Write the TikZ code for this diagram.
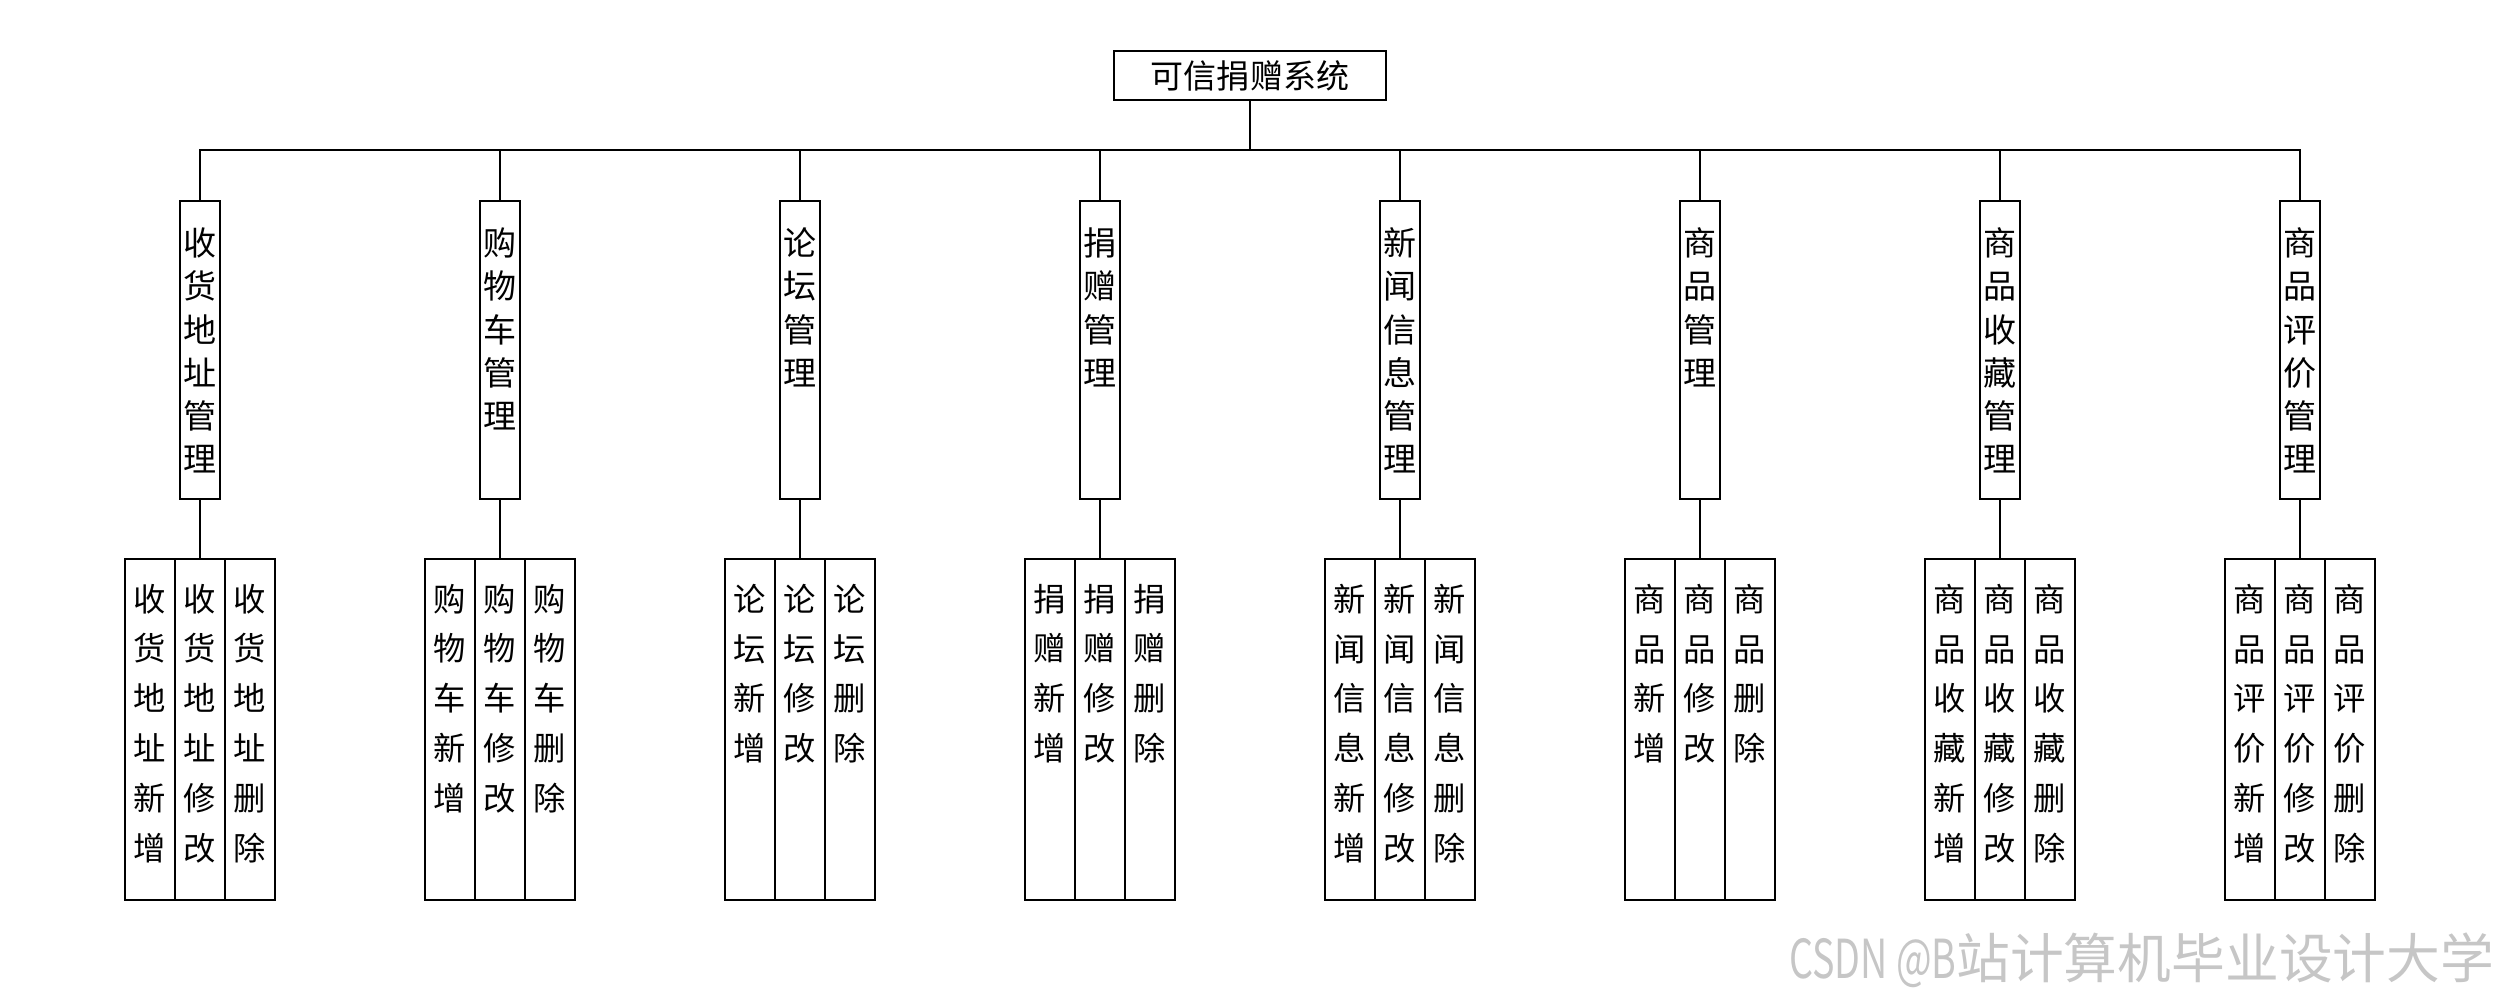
\documentclass[tikz,border=0pt]{standalone}
\usepackage{fontspec}
\setmainfont{Noto Sans CJK SC}
\usetikzlibrary{positioning}

\begin{document}
\begin{tikzpicture}[
    line width=0.5pt,
    rootbox/.style={draw, minimum width=2.72cm, minimum height=0.49cm, inner sep=0pt, font=\fontsize{9.4}{11}\selectfont},
    modbox/.style={draw, anchor=north, minimum width=0.4cm, minimum height=2.98cm, inner sep=0pt},
    leafbox/.style={draw, anchor=north, minimum width=0.5cm, minimum height=3.41cm, inner sep=0pt},
    modtext/.style={anchor=north, align=center, inner sep=0pt, font=\fontsize{9.4}{12.3}\selectfont},
    leaftext/.style={anchor=north, align=center, inner sep=0pt, font=\fontsize{9.2}{14.2}\selectfont},
    wmark/.style={anchor=east, inner sep=0pt, text=gray!45, font=\fontsize{15.3}{18}\selectfont}
]
\useasboundingbox (0,0) rectangle (25,-10);
\node[rootbox] (root) at (12.5,-0.755) {可信捐赠系统};
\coordinate (bus) at (12.5,-1.5);
\draw (root.south) -- (bus);
\foreach \p [count=\i] in {{收\\货\\地\\址}, {购\\物\\车}, {论\\坛}, {捐\\赠}, {新\\闻\\信\\息}, {商\\品}, {商\\品\\收\\藏}, {商\\品\\评\\价}} {
  \pgfmathsetmacro\x{2+3*(\i-1)}
  \node[modbox] (m\i) at (\x,-2.00) {};
  \node[modtext] (mt\i) at ([yshift=-0.27cm]m\i.north) {\p\\管\\理};
  \draw (m\i.north) |- (bus);
  \foreach \op [count=\j] in {{新\\增}, {修\\改}, {删\\除}} {
    \node[leafbox] (l\i-\j) at (\x-1+0.5*\j,-5.58) {};
    \node[leaftext] (lt\i-\j) at ([yshift=-0.25cm]l\i-\j.north) {\p\\\op};
  }
  \draw (m\i.south) -- (l\i-2.north);
}
\node[wmark] (wm) at (24.95,-9.6) {\scalebox{0.7}[1]{CSDN @B}站计算机毕业设计大学};
\end{tikzpicture}
\end{document}
